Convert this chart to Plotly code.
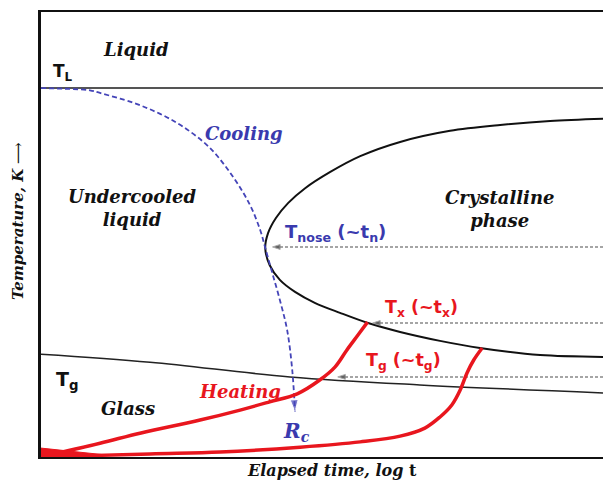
import plotly.graph_objects as go

# ---- data (x: log t, arbitrary 0-100; y: temperature, arbitrary 0-100) ----
TL = 82.9
tg_x = [0, 19.4, 44.3, 67.4, 100]
tg_y = [23.1, 21.3, 18.0, 16.2, 14.4]

ttt_x = [100, 90.6, 81.7, 72.8, 63.9, 56.8, 51.4, 47.0, 44.0, 41.8, 40.4, 39.9,
         40.7, 42.5, 45.2, 48.8, 53.2, 58.2, 63.9, 71.0, 78.1, 88.8, 100]
ttt_y = [76.0, 75.5, 74.6, 73.3, 70.8, 67.6, 64.0, 60.4, 57.1, 53.7, 50.3, 47.0,
         43.1, 39.8, 37.1, 34.6, 32.4, 30.1, 28.1, 26.1, 24.5, 22.9, 22.5]

cool_x = [0, 5.2, 8.7, 10.5, 16.4, 21.2, 25.3, 30.1, 34.2, 37.2, 39.0, 39.9,
          41.1, 42.5, 43.8, 44.7, 45.2]
cool_y = [82.9, 82.7, 82.4, 81.8, 79.6, 77.1, 74.2, 69.4, 62.9, 56.6, 51.0, 47.0,
          41.6, 35.3, 28.5, 19.6, 10.1]

heat1_x = [0, 10.5, 17.8, 28.3, 35.6, 40.7, 45.6, 49.6, 52.3, 54.4, 56.4, 58.1]
heat1_y = [0, 3.1, 5.4, 8.3, 10.6, 12.4, 14.2, 17.3, 20.2, 24.0, 27.4, 30.3]

heat2_x = [0, 19.4, 31.9, 46.1, 56.8, 63.9, 68.3, 71.0, 73.1, 74.6, 75.8, 77.0, 78.5]
heat2_y = [0, 0.7, 1.1, 2.2, 3.4, 4.7, 6.5, 9.0, 11.7, 15.1, 18.9, 21.8, 24.5]

# red wedge where the heating curves start
wedge_x = [0, 12, 0]
wedge_y = [2.0, 0.4, -0.4]

# horizontal guide arrows: (temperature, start x, end x)
guides = [(47.2, 100, 41.2), (30.1, 100, 59.0), (18.0, 100, 52.8)]

BLUE = "#3a3aae"
RED = "#e8161e"
SERIF = "DejaVu Serif"
SANS = "DejaVu Sans"

fig = go.Figure()

# T_L line
fig.add_trace(go.Scatter(x=[0, 100], y=[TL, TL], mode="lines",
                         line=dict(color="#555555", width=2), hoverinfo="skip"))
# Tg line
fig.add_trace(go.Scatter(x=tg_x, y=tg_y, mode="lines", line_shape="spline",
                         line=dict(color="#222222", width=1.5), hoverinfo="skip"))
# TTT C-curve
fig.add_trace(go.Scatter(x=ttt_x, y=ttt_y, mode="lines", line_shape="spline",
                         line=dict(color="#111111", width=2, smoothing=0.9), hoverinfo="skip"))
# guide arrows
for ty, x0, x1 in guides:
    fig.add_trace(go.Scatter(x=[x0, x1 + 2, x1], y=[ty, ty, ty], mode="lines+markers",
                             line=dict(color="#888888", width=1.5, dash="3px,2px"),
                             marker=dict(symbol="arrow", angleref="previous",
                                         size=[0, 0, 8], color="#222222"),
                             hoverinfo="skip"))
# cooling curve
fig.add_trace(go.Scatter(x=cool_x, y=cool_y, mode="lines+markers", line_shape="spline",
                         line=dict(color="#4444b8", width=1.8, dash="5px,3px"),
                         marker=dict(symbol="arrow", angleref="previous",
                                     size=[0] * (len(cool_x) - 1) + [13], color="#4444b8"),
                         hoverinfo="skip"))
# heating curves
for hx, hy in [(heat1_x, heat1_y), (heat2_x, heat2_y)]:
    fig.add_trace(go.Scatter(x=hx, y=hy, mode="lines", line_shape="spline",
                             line=dict(color=RED, width=3.5), hoverinfo="skip"))
fig.add_trace(go.Scatter(x=wedge_x, y=wedge_y, mode="lines", fill="toself",
                         fillcolor=RED, line=dict(color=RED, width=1), hoverinfo="skip"))

def ann(x, y, text, size, color="#111111", family=SERIF, xanchor="center", xref="x", yref="y", angle=0):
    fig.add_annotation(x=x, y=y, xref=xref, yref=yref, text=text, showarrow=False,
                       xanchor=xanchor, yanchor="middle", textangle=angle,
                       font=dict(size=size, color=color, family=family))

ann(16.9, 91.5, "<b><i>Liquid</i></b>", 18)
ann(3.9, 86.3, "<b>T<sub>L</sub></b>", 17, family=SANS)
ann(36.1, 72.6, "<b><i>Cooling</i></b>", 18, color=BLUE)
ann(16.2, 56.0, "<b><i>Undercooled<br>liquid</i></b>", 18)
ann(81.5, 55.8, "<b><i>Crystalline<br>phase</i></b>", 18)
ann(43.1, 50.4, "<b>T<sub>nose</sub> (~t<sub>n</sub>)</b>", 18, color=BLUE, family=SANS, xanchor="left")
ann(60.9, 33.3, "<b>T<sub>x</sub> (~t<sub>x</sub>)</b>", 17.5, color=RED, family=SANS, xanchor="left")
ann(57.5, 21.4, "<b>T<sub>g</sub> (~t<sub>g</sub>)</b>", 17.5, color=RED, family=SANS, xanchor="left")
ann(2.3, 17.3, "<b>T<sub>g</sub></b>", 19, family=SANS, xanchor="left")
ann(15.5, 11.0, "<b><i>Glass</i></b>", 18)
ann(35.4, 14.8, "<b><i>Heating</i></b>", 18, color=RED)
ann(45.4, 5.6, "<b><i>R<sub>c</sub></i></b>", 20, color=BLUE)
ann(0.518, -0.03, "<b><i>Elapsed time, log </i>t</b>", 16, xref="paper", yref="paper")
ann(-0.041, 0.53, "<b><i>Temperature, K</i></b> \u27f6", 15, xref="paper", yref="paper", angle=-90)

fig.update_layout(
    width=603, height=481, showlegend=False,
    margin=dict(l=41, r=0, t=12, b=24),
    paper_bgcolor="white", plot_bgcolor="white",
    xaxis=dict(range=[0, 100], showgrid=False, zeroline=False, showticklabels=False,
               ticks="", showline=True, linecolor="#111111", linewidth=2, mirror=True,
               fixedrange=True),
    yaxis=dict(range=[0, 100], showgrid=False, zeroline=False, showticklabels=False,
               ticks="", showline=True, linecolor="#111111", linewidth=2.5,
               fixedrange=True),
)

fig.write_html("out.html")
